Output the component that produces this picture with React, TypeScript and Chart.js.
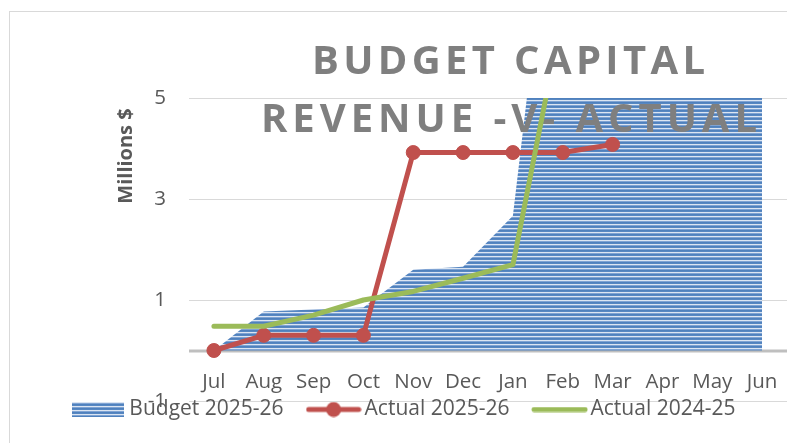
import React, { useEffect, useRef } from 'react';
import { Chart, registerables } from 'chart.js';

Chart.register(...registerables);

const categories = ['Jul', 'Aug', 'Sep', 'Oct', 'Nov', 'Dec', 'Jan', 'Feb', 'Mar', 'Apr', 'May', 'Jun'];
const budget2526 = [0, 0.77, 0.81, 0.85, 1.6, 1.66, 2.67, 11.0, 11.8, 12.5, 13.2, 14.0];
const actual2526 = [0, 0.3, 0.3, 0.3, 3.92, 3.92, 3.92, 3.92, 4.08, null, null, null];
const actual2425 = [0.48, 0.48, 0.7, 1.0, 1.17, 1.43, 1.7, 6.7, 7.3, 8.0, 8.8, 9.6];
const yTicks = [-1, 1, 3, 5];
const seriesLabels = ['Budget 2025-26', 'Actual 2025-26', 'Actual 2024-25'];
const titleLines = ['BUDGET CAPITAL', 'REVENUE -V- ACTUAL'];
const yAxisTitle = 'Millions $';

const RED = '#c0504d';
const GREEN = '#9bbb59';
const TEXT = '#595959';
const FONT = "'Open Sans', 'Noto Sans', sans-serif";

function stripeTile(): HTMLCanvasElement {
  const c = document.createElement('canvas');
  c.width = 4;
  c.height = 4;
  const g = c.getContext('2d')!;
  const rows = ['#dbe5f2', '#7fa3d3', '#4f81bd', '#5787c2'];
  rows.forEach((col, i) => {
    g.fillStyle = col;
    g.fillRect(0, i, 4, 1);
  });
  return c;
}

function legendBudgetImg(): HTMLCanvasElement {
  const c = document.createElement('canvas');
  c.width = 52;
  c.height = 15;
  const g = c.getContext('2d')!;
  g.fillStyle = g.createPattern(stripeTile(), 'repeat')!;
  g.fillRect(0, 0, 52, 15);
  return c;
}

function legendRedImg(): HTMLCanvasElement {
  const c = document.createElement('canvas');
  c.width = 56;
  c.height = 16;
  const g = c.getContext('2d')!;
  g.strokeStyle = RED;
  g.lineWidth = 5;
  g.lineCap = 'round';
  g.beginPath();
  g.moveTo(3, 8);
  g.lineTo(53, 8);
  g.stroke();
  g.fillStyle = RED;
  g.beginPath();
  g.arc(28, 8, 7.5, 0, Math.PI * 2);
  g.fill();
  return c;
}

function legendGreenImg(): HTMLCanvasElement {
  const c = document.createElement('canvas');
  c.width = 57;
  c.height = 6;
  const g = c.getContext('2d')!;
  g.strokeStyle = GREEN;
  g.lineWidth = 5;
  g.lineCap = 'round';
  g.beginPath();
  g.moveTo(3, 3);
  g.lineTo(54, 3);
  g.stroke();
  return c;
}

function drawSpaced(ctx: CanvasRenderingContext2D, text: string, cx: number, y: number, targetWidth: number) {
  const chars = Array.from(text);
  const widths = chars.map((ch) => ctx.measureText(ch).width);
  const natural = widths.reduce((a, b) => a + b, 0);
  const gap = (targetWidth - natural) / (chars.length - 1);
  let x = cx - targetWidth / 2;
  chars.forEach((ch, i) => {
    ctx.fillText(ch, x, y);
    x += widths[i] + gap;
  });
}

export default function App() {
  const ref = useRef<HTMLCanvasElement | null>(null);

  useEffect(() => {
    const canvas = ref.current;
    if (!canvas) return;
    const ctx = canvas.getContext('2d')!;
    const pattern = ctx.createPattern(stripeTile(), 'repeat')!;
    const legendImgs = [legendBudgetImg(), legendRedImg(), legendGreenImg()];

    const decor = {
      id: 'decor',
      beforeDraw(chart: any) {
        const c = chart.ctx;
        c.save();
        c.fillStyle = '#ffffff';
        c.fillRect(0, 0, chart.width, chart.height);
        c.strokeStyle = '#d9d9d9';
        c.lineWidth = 1;
        c.strokeRect(9.5, 11.5, 1200, 1200);
        c.restore();
      },
      afterLayout(chart: any) {
        // Excel-style: category labels sit next to the zero-crossing, and the
        // legend overlaps the bottom of the plot; move the boxes' top edges up.
        const lg = chart.legend;
        if (lg) lg.top -= 31.5;
        const x = chart.scales.x;
        if (x) x.top = chart.chartArea.bottom - 40;
      },
      beforeDatasetsDraw(chart: any) {
        const c = chart.ctx;
        const y0 = chart.scales.y.getPixelForValue(0);
        const { left, right } = chart.chartArea;
        c.save();
        c.strokeStyle = '#bfbfbf';
        c.lineWidth = 3;
        c.beginPath();
        c.moveTo(left, y0 + 0.5);
        c.lineTo(right, y0 + 0.5);
        c.stroke();
        c.restore();
      },
      afterDatasetDraw(chart: any, args: any) {
        if (args.index !== 0) return;
        const c = chart.ctx;
        c.save();
        c.fillStyle = '#7f7f7f';
        c.font = `bold 40px ${FONT}`;
        c.textBaseline = 'alphabetic';
        c.textAlign = 'left';
        drawSpaced(c, titleLines[0], 508.5, 74, 393);
        drawSpaced(c, titleLines[1], 509, 132, 496);
        c.restore();
      },
      afterDraw(chart: any) {
        const c = chart.ctx;
        c.save();
        c.translate(126, 156);
        c.rotate(-Math.PI / 2);
        c.fillStyle = TEXT;
        c.font = `bold 20px ${FONT}`;
        c.textAlign = 'center';
        c.textBaseline = 'middle';
        c.fillText(yAxisTitle, 0, 0);
        c.restore();
      },
    };

    const chart = new Chart(canvas, {
      type: 'line',
      data: {
        labels: categories,
        datasets: [
          {
            label: seriesLabels[0],
            data: budget2526,
            fill: 'origin',
            backgroundColor: pattern as any,
            borderColor: 'transparent',
            borderWidth: 0,
            pointRadius: 0,
            pointHoverRadius: 0,
            order: 3,
            clip: 0 as any,
          },
          {
            label: seriesLabels[1],
            data: actual2526,
            fill: false,
            borderColor: RED,
            backgroundColor: RED,
            borderWidth: 5,
            pointRadius: 7,
            pointBackgroundColor: RED,
            pointBorderColor: RED,
            pointBorderWidth: 1,
            borderJoinStyle: 'round',
            order: 2,
            clip: 0 as any,
          },
          {
            label: seriesLabels[2],
            data: actual2425,
            fill: false,
            borderColor: GREEN,
            backgroundColor: GREEN,
            borderWidth: 5,
            pointRadius: 0,
            borderCapStyle: 'round',
            borderJoinStyle: 'round',
            order: 1,
            clip: 0 as any,
          },
        ],
      },
      options: {
        responsive: false,
        animation: false,
        devicePixelRatio: 1,
        events: [],
        layout: { autoPadding: false, padding: { left: 26.3, right: 0, top: 98, bottom: 0 } },
        plugins: {
          title: { display: false },
          tooltip: { enabled: false },
          legend: {
            position: 'bottom',
            maxHeight: 42,
            labels: {
              usePointStyle: true,
              pointStyleWidth: 41,
              padding: 29.5,
              color: TEXT,
              font: { family: FONT, size: 21 },
              generateLabels: (ch: any) =>
                ch.data.datasets.map((ds: any, i: number) => ({
                  text: ds.label,
                  pointStyle: legendImgs[i],
                  fillStyle: 'transparent',
                  strokeStyle: 'transparent',
                  lineWidth: 0,
                  hidden: false,
                  datasetIndex: i,
                  fontColor: TEXT,
                })),
            },
          },
        },
        scales: {
          x: {
            offset: true,
            grid: { display: false, drawTicks: false, offset: true },
            border: { display: false },
            ticks: {
              color: TEXT,
              font: { family: FONT, size: 20.5 },
              padding: 8.7,
              maxRotation: 0,
              minRotation: 0,
              autoSkip: false,
            },
            afterFit: (s: any) => {
              s.height = 0;
              s.paddingLeft = 0;
              s.paddingRight = 0;
            },
          },
          y: {
            min: -1,
            max: 5,
            afterBuildTicks: (s: any) => {
              s.ticks = yTicks.map((v) => ({ value: v }));
            },
            grid: { color: '#d9d9d9', lineWidth: 1, drawTicks: false },
            border: { display: false },
            ticks: {
              color: TEXT,
              font: { family: FONT, size: 20.5 },
              padding: 23,
            },
            afterFit: (s: any) => {
              s.width = 162.7;
            },
          },
        },
      },
      plugins: [decor],
    } as any);

    return () => chart.destroy();
  }, []);

  return (
    <div style={{ position: 'fixed', left: 0, top: 0, width: 787, height: 443, background: '#fff' }}>
      <canvas ref={ref} width={787} height={443} style={{ display: 'block', width: 787, height: 443 }} />
    </div>
  );
}
